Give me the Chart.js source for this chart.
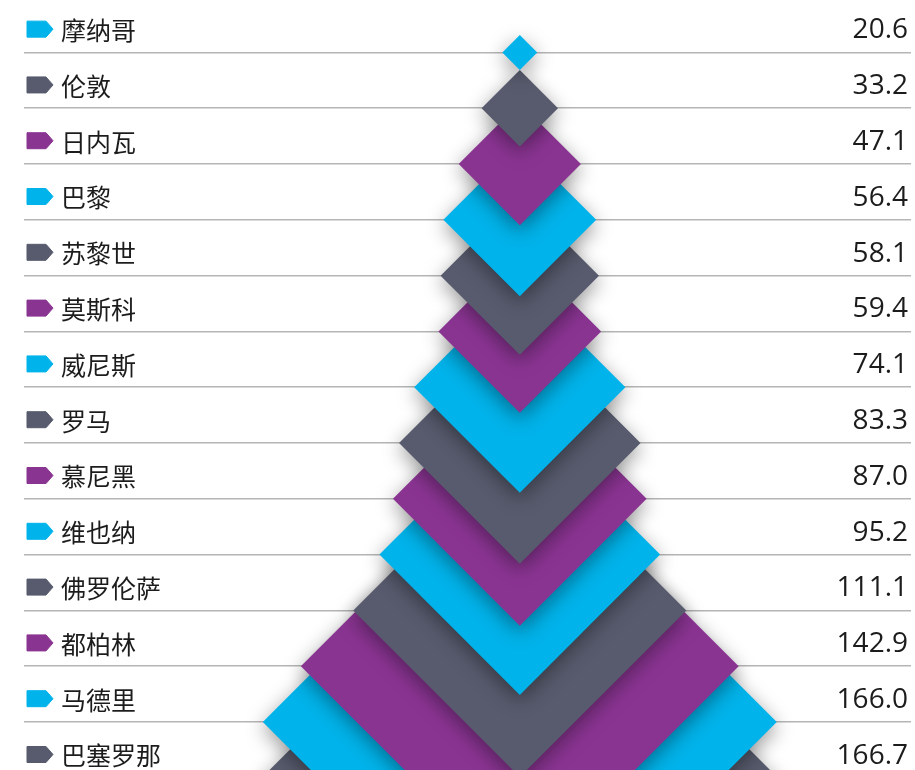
<!DOCTYPE html>
<html lang="zh">
<head>
<meta charset="utf-8">
<script src="https://cdn.jsdelivr.net/npm/chart.js@4"></script>
<style>
  html, body { margin: 0; padding: 0; background: #ffffff; overflow: hidden; }
  #wrap { width: 915px; height: 770px; position: relative; }
</style>
</head>
<body>
<div id="wrap"><canvas id="cityChart"></canvas></div>
<script>
// Städte und Werte, von oben nach unten
const cities = ['摩纳哥', '伦敦', '日内瓦', '巴黎', '苏黎世', '莫斯科', '威尼斯',
  '罗马', '慕尼黑', '维也纳', '佛罗伦萨', '都柏林', '马德里', '巴塞罗那'];
const values = [20.6, 33.2, 47.1, 56.4, 58.1, 59.4, 74.1,
  83.3, 87.0, 95.2, 111.1, 142.9, 166.0, 166.7];

const palette = ['#00b3ea', '#575b6d', '#8a3492'];
const sizeBase = 10;       // Wert, bei dem die Raute die Grösse 0 hätte
const lineOffset = 0.4;    // Trennlinie unterhalb der Zeile

// Rauten: kleinste zuletzt zeichnen, damit sie oben liegt
const diamonds = values.map((v, i) => ({ x: 0, y: i + lineOffset, v: v, i: i })).reverse();

const rowTicks = (scale) => {
  scale.ticks = cities.map((_, i) => ({ value: i + lineOffset }));
};

// Achsen ohne eigene Breite und ohne Zusatzabstand oben/unten
const flatAxis = (scale) => {
  scale.width = 0;
  scale.paddingTop = 0;
  scale.paddingBottom = 0;
};

const shadowPlugin = {
  id: 'diamondShadow',
  beforeDatasetsDraw(chart) {
    const ctx = chart.ctx;
    ctx.save();
    ctx.shadowColor = 'rgba(0, 0, 0, 0.4)';
    ctx.shadowBlur = 20;
    ctx.shadowOffsetX = 0;
    ctx.shadowOffsetY = 6;
  },
  afterDatasetsDraw(chart) {
    chart.ctx.restore();
  }
};

// kleine Pfeil-Marker vor den Städtenamen
const tagPlugin = {
  id: 'rowTags',
  afterDraw(chart) {
    const ctx = chart.ctx;
    const y = chart.scales.y;
    const left = chart.chartArea.left + 3;
    ctx.save();
    ctx.lineJoin = 'round';
    cities.forEach((c, i) => {
      const cy = y.getPixelForValue(i) - 1;
      ctx.fillStyle = palette[i % 3];
      ctx.strokeStyle = palette[i % 3];
      ctx.lineWidth = 1;
      ctx.beginPath();
      ctx.moveTo(left, cy - 8);
      ctx.lineTo(left + 19, cy - 8);
      ctx.lineTo(left + 26, cy);
      ctx.lineTo(left + 19, cy + 8);
      ctx.lineTo(left, cy + 8);
      ctx.closePath();
      ctx.fill();
      ctx.stroke();
    });
    ctx.restore();
  }
};

const ctx = document.getElementById('cityChart').getContext('2d');

const myChart = new Chart(ctx, {
  type: 'scatter',
  data: {
    datasets: [{
      data: diamonds,
      yAxisID: 'y',
      pointStyle: 'rectRot',
      pointBorderWidth: 0,
      pointRadius: (c) => {
        if (!c.raw) return 0;
        const s = c.chart.scales.x;
        return s.getPixelForValue(c.raw.v) - s.getPixelForValue(sizeBase);
      },
      pointBackgroundColor: (c) => c.raw ? palette[c.raw.i % 3] : palette[0],
      clip: false
    }]
  },
  options: {
    responsive: true,
    maintainAspectRatio: false,
    animation: false,
    events: [],
    layout: {
      padding: { left: 24, right: 4, top: 0, bottom: 0 }
    },
    scales: {
      x: {
        type: 'linear',
        display: false,
        min: -301,
        max: 237.5
      },
      y: {
        type: 'linear',
        position: 'left',
        reverse: true,
        min: -0.54,
        max: 13.26,
        afterBuildTicks: rowTicks,
        afterFit: flatAxis,
        border: { display: false },
        grid: {
          color: '#b5b5b5',
          lineWidth: 1.5,
          drawTicks: false
        },
        ticks: {
          mirror: true,
          autoSkip: false,
          padding: 37,
          labelOffset: -22,
          color: '#1c1c1c',
          font: { family: 'Noto Sans CJK SC', size: 25 },
          callback: (value, index) => cities[index]
        }
      },
      y2: {
        type: 'linear',
        position: 'right',
        reverse: true,
        min: -0.54,
        max: 13.26,
        afterBuildTicks: rowTicks,
        afterFit: flatAxis,
        border: { display: false },
        grid: { display: false, drawTicks: false },
        ticks: {
          mirror: true,
          autoSkip: false,
          padding: -3,
          labelOffset: -22,
          color: '#1c1c1c',
          font: { family: 'Open Sans', size: 28 },
          callback: (value, index) => values[index].toFixed(1)
        }
      }
    },
    plugins: {
      legend: { display: false },
      tooltip: { enabled: false }
    }
  },
  plugins: [shadowPlugin, tagPlugin]
});
</script>
</body>
</html>
